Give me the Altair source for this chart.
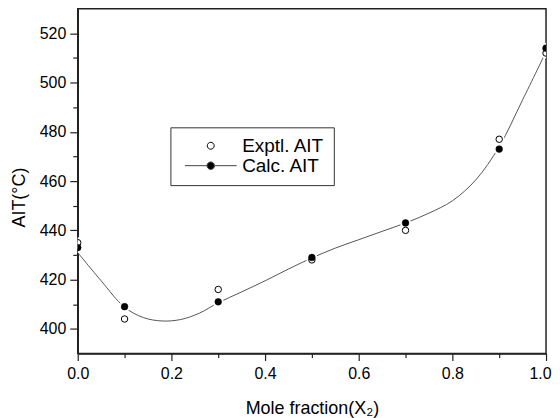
import altair as alt
import pandas as pd

# Data
x_pts = [0.0, 0.1, 0.3, 0.5, 0.7, 0.9, 1.0]
exptl_ait = [435, 404, 416, 428, 440, 477, 512]
calc_ait = [433, 409, 411, 429, 443, 473, 514]

curve_x = [0.0, 0.05, 0.1, 0.14, 0.18, 0.22, 0.26, 0.3, 0.35, 0.4, 0.45, 0.5,
           0.55, 0.6, 0.65, 0.7, 0.75, 0.8, 0.85, 0.9, 0.95, 1.0]
curve_y = [431, 419.5, 408.8, 404.6, 403.2, 403.8, 406.4, 410.6, 415, 419.5, 424.3, 428.8,
           432.8, 436.2, 439.6, 443, 447, 452, 460.5, 474, 493, 512.5]

major_x = [0.0, 0.2, 0.4, 0.6, 0.8]
end_x = [1.0]
minor_x = [0.1, 0.3, 0.5, 0.7, 0.9]
major_y = [400, 420, 440, 460, 480, 500, 520]
minor_y = [410, 430, 450, 470, 490, 510]

legend_series = ["Exptl. AIT", "Calc. AIT"]

FONT = "Liberation Sans"

pts = pd.DataFrame({"x": x_pts, "exptl": exptl_ait, "calc": calc_ait})
curve = pd.DataFrame({"x": curve_x, "y": curve_y})
halo = pd.DataFrame({"x": x_pts + x_pts, "y": exptl_ait + calc_ait})
leg = pd.DataFrame({"series": legend_series, "x": [None, None], "y": [None, None]})


def xs():
    return alt.Scale(domain=[0, 1], nice=False, zero=False)


def ys():
    return alt.Scale(domain=[390, 530], nice=False, zero=False)


x_major_axis = alt.Axis(
    orient="bottom", values=major_x, format=".1f", tickSize=7, labelFlush=False,
    title="Mole fraction(X₂)", titleColor="black", grid=False,
    labelPadding=5, titlePadding=18,
)
x_end_axis = alt.Axis(
    orient="bottom", values=end_x, format=".1f", tickSize=7, labelFlush=False,
    labelOffset=-6, domain=False, title=None, grid=False, labelPadding=5,
)
x_minor_axis = alt.Axis(
    orient="bottom", values=minor_x, labels=False, tickSize=4, domain=False,
    title=None, grid=False,
)
y_major_axis = alt.Axis(
    orient="left", values=major_y, format="d", tickSize=8, labelFlush=False,
    title="AIT(°C)", titleColor="black", grid=False,
    labelPadding=4, titlePadding=11, titleY=189,
)
y_minor_axis = alt.Axis(
    orient="left", values=minor_y, labels=False, tickSize=5, domain=False,
    title=None, grid=False,
)

line = alt.Chart(curve).mark_line(
    interpolate="catmull-rom", color="#555555", strokeWidth=1, clip=True
).encode(
    x=alt.X("x:Q", scale=xs(), axis=x_major_axis),
    y=alt.Y("y:Q", scale=ys(), axis=y_major_axis),
)

halos = alt.Chart(halo).mark_circle(
    color="white", opacity=1, size=120, clip=True
).encode(
    x=alt.X("x:Q", scale=xs(), axis=x_minor_axis),
    y=alt.Y("y:Q", scale=ys(), axis=y_minor_axis),
)

exptl = alt.Chart(pts).mark_point(
    shape="circle", filled=True, fill="white", stroke="black", strokeWidth=1,
    size=42, opacity=1, clip=True
).encode(
    x=alt.X("x:Q", scale=xs(), axis=x_end_axis),
    y=alt.Y("exptl:Q", scale=ys(), axis=None),
)

calc = alt.Chart(pts).mark_point(
    shape="circle", filled=True, fill="black", stroke="black", strokeWidth=0.5,
    size=46, opacity=1, clip=True
).encode(
    x=alt.X("x:Q", scale=xs(), axis=None),
    y=alt.Y("calc:Q", scale=ys(), axis=None),
)

open_path = "M0.41,0A0.41,0.41,0,1,1,-0.41,0A0.41,0.41,0,1,1,0.41,0Z"
line_dot_path = ("M-3.06,0L-0.44,0M0.44,0L3.06,0"
                 "M0.44,0A0.44,0.44,0,1,1,-0.44,0A0.44,0.44,0,1,1,0.44,0Z")

legend_layer = alt.Chart(leg).mark_point(
    filled=True, strokeWidth=1, opacity=1
).encode(
    x=alt.X("x:Q", scale=xs(), axis=None),
    y=alt.Y("y:Q", scale=ys(), axis=None),
    shape=alt.Shape(
        "series:N",
        scale=alt.Scale(domain=legend_series, range=[open_path, line_dot_path]),
        legend=alt.Legend(
            title=None,
            orient="none",
            legendX=93,
            legendY=119,
            padding=9,
            strokeColor="#333333",
            fillColor="white",
            labelFont=FONT,
            labelFontSize=19,
            labelColor="black",
            symbolSize=289,
            symbolStrokeWidth=1,
            symbolOffset=22,
            labelOffset=22,
            rowPadding=0,
        ),
    ),
    fill=alt.Fill(
        "series:N",
        scale=alt.Scale(domain=legend_series, range=["white", "black"]),
    ),
    stroke=alt.Stroke(
        "series:N",
        scale=alt.Scale(domain=legend_series, range=["black", "#444444"]),
    ),
)

chart = alt.layer(line, halos, exptl, calc, legend_layer).resolve_scale(
    x="independent", y="independent"
).resolve_axis(
    x="independent", y="independent"
).properties(
    width=470,
    height=346,
    padding={"left": 2, "top": 0, "right": 0, "bottom": 0},
).configure_view(
    stroke="#222222", strokeWidth=1.5
).configure_axis(
    domainColor="#222222",
    domainWidth=1.5,
    tickColor="#222222",
    tickWidth=1.2,
    labelFont=FONT,
    labelFontSize=16,
    labelColor="black",
    titleFont=FONT,
    titleFontSize=18,
    titleFontWeight="normal",
    titleColor="black",
)

chart.save("out.html", embed_options={"renderer": "svg", "actions": False})
